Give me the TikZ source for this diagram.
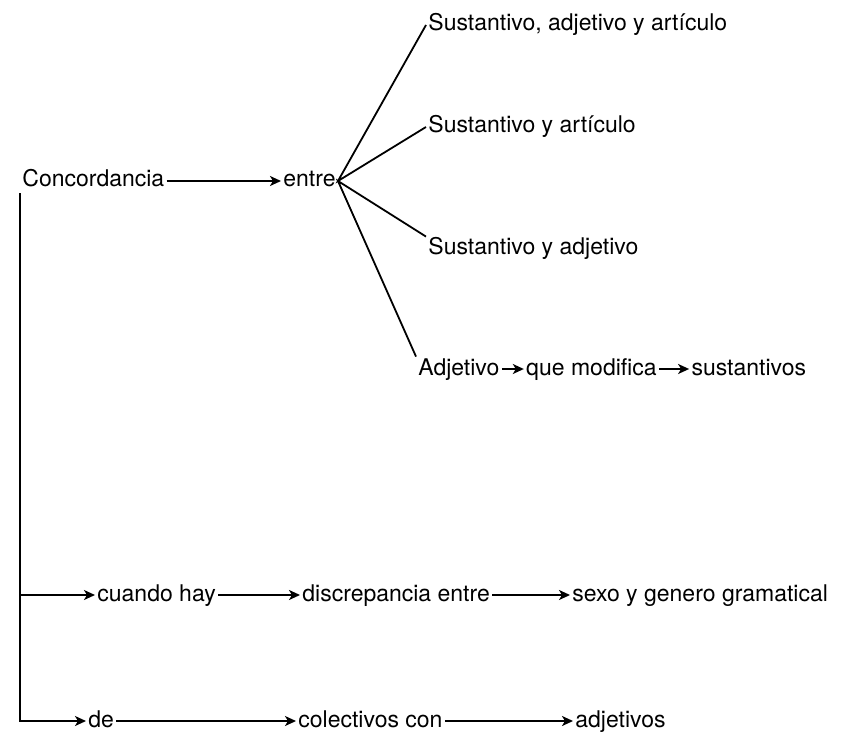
\documentclass[tikz,border=0pt]{standalone}
\usepackage{fontspec}
\setmainfont{TeX Gyre Heros}
\usepackage{tikz}
\usetikzlibrary{arrows.meta, positioning}

\begin{document}
\begin{tikzpicture}[
    x=0.5pt, y=-0.5pt,
    word/.style={
      inner sep=1pt, anchor=base west,
      text height=8pt, text depth=2pt,
      font=\fontsize{11.5}{13}\selectfont
    },
    ln/.style={line width=0.9pt},
    arr/.style={-{Stealth[length=5.5pt, width=5pt, inset=1.5pt]}, line width=0.9pt}
  ]
  \useasboundingbox (0,0) rectangle (865,748);

  \node[word] (conc)  at (20,187)  {Concordancia};
  \node[word] (entre) at (281,187) {entre};

  \node[word] (s1)  at (426,31)  {Sustantivo, adjetivo y artículo};
  \node[word] (s2)  at (426,133) {Sustantivo y artículo};
  \node[word] (s3)  at (426,255) {Sustantivo y adjetivo};
  \node[word] (adj) at (416,375) {Adjetivo};
  \node[word, anchor=west, right=11pt of adj] (mod) {que modifica};
  \node[word, anchor=west, right=15pt of mod] (sus) {sustantivos};

  \node[word] (cuando) at (95,601)  {cuando hay};
  \node[word] (discr)  at (300,601) {discrepancia entre};
  \node[word] (sexo)   at (570,601) {sexo y genero gramatical};

  \node[word] (de)    at (86,727)  {de};
  \node[word] (colec) at (296,727) {colectivos con};
  \node[word] (adjs)  at (573,727) {adjetivos};

  \draw[arr] (conc) -- (entre);
  \draw[ln] (s1.west) -- (entre.east) -- (s2.west);
  \draw[ln] (s3.north west) -- (entre.east) -- (adj.north west);
  \draw[arr] (adj) -- (mod);
  \draw[arr] (mod) -- (sus);

  \draw[arr] (conc.south west) |- (de);
  \draw[arr] (conc.south west |- cuando) -- (cuando);
  \draw[arr] (cuando) -- (discr);
  \draw[arr] (discr) -- (sexo);
  \draw[arr] (de) -- (colec);
  \draw[arr] (colec) -- (adjs);

\end{tikzpicture}
\end{document}
